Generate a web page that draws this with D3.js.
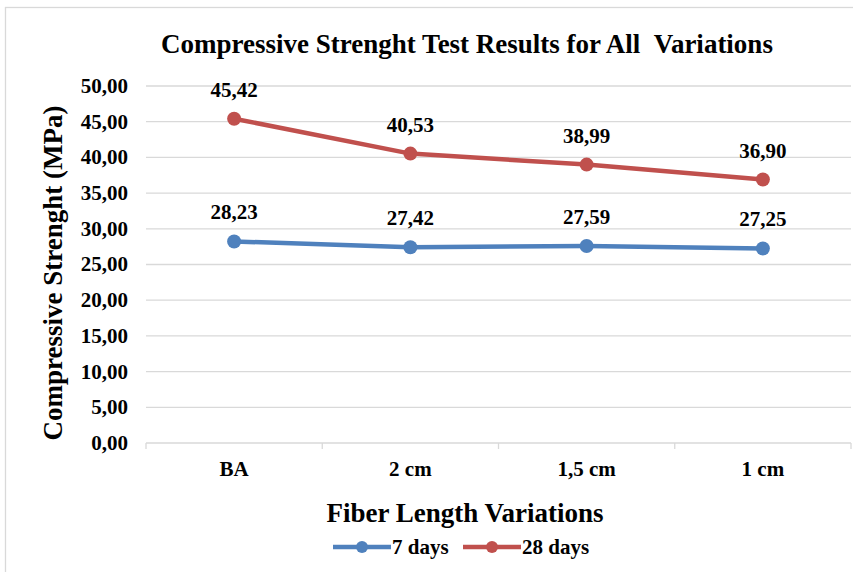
<!DOCTYPE html>
<html lang="en">
  <head>
    <meta charset="UTF-8" />
    <title>Compressive Strenght Test Results</title>
    <style>
      body { margin: 0; background: #fff; }
      svg text { font-family: "Liberation Serif", "Times New Roman", Times, "DejaVu Serif", serif; font-weight: bold; }
      .grid line { stroke: #d9d9d9; stroke-width: 1.3; }
    </style>
  </head>
  <body>
    <div id="chart"></div>
    <script src="https://d3js.org/d3.v7.min.js"></script>
    <script>
      const categories = ['BA', '2 cm', '1,5 cm', '1 cm'];
      const days7 = [28.23, 27.42, 27.59, 27.25];
      const days28 = [45.42, 40.53, 38.99, 36.90];
      const yTicks = [0, 5, 10, 15, 20, 25, 30, 35, 40, 45, 50];

      const series = [
        { name: '7 days', values: days7, color: '#4F81BD' },
        { name: '28 days', values: days28, color: '#C0504D' },
      ];

      const W = 853, H = 572;
      const margin = { top: 86, right: 2, bottom: 129, left: 146 };

      const svg = d3.select('#chart').append('svg').attr('width', W).attr('height', H);

      // outer chart border
      svg.append('rect')
        .attr('x', 5.5).attr('y', 7.5)
        .attr('width', W + 10).attr('height', H + 10)
        .attr('fill', 'none').attr('stroke', '#d9d9d9').attr('stroke-width', 1.3);

      const x = d3.scaleBand().domain(categories).range([margin.left, W - margin.right]);
      const y = d3.scaleLinear().domain([0, 50]).range([H - margin.bottom, margin.top]);

      // gridlines
      svg.append('g').attr('class', 'grid')
        .selectAll('line').data(yTicks).enter().append('line')
        .attr('x1', margin.left).attr('x2', W - margin.right)
        .attr('y1', d => y(d)).attr('y2', d => y(d));

      // x axis ticks
      const xTickPos = categories.map(c => x(c)).concat([x.range()[1]]);
      svg.append('g').selectAll('line').data(xTickPos).enter().append('line')
        .attr('x1', d => d).attr('x2', d => d)
        .attr('y1', y(0)).attr('y2', y(0) + 6)
        .attr('stroke', '#d9d9d9').attr('stroke-width', 1.3);

      // y tick labels
      svg.append('g').selectAll('text').data(yTicks).enter().append('text')
        .attr('x', 128).attr('y', d => y(d)).attr('dy', '0.33em')
        .attr('text-anchor', 'end').style('font-size', '21px')
        .text(d => d3.format('.2f')(d).replace('.', ','));

      // x labels
      svg.append('g').selectAll('text').data(categories).enter().append('text')
        .attr('x', d => x(d) + x.bandwidth() / 2).attr('y', 476)
        .attr('text-anchor', 'middle').style('font-size', '21px')
        .text(d => d);

      // title
      svg.append('text').attr('x', 467).attr('y', 53)
        .attr('text-anchor', 'middle').style('font-size', '27px')
        .text('Compressive Strenght Test Results for All\u00a0\u00a0Variations');

      // axis titles
      svg.append('text').attr('transform', 'rotate(-90)')
        .attr('x', -273).attr('y', 62)
        .attr('text-anchor', 'middle').style('font-size', '27px')
        .text('Compressive Strenght (MPa)');

      svg.append('text').attr('x', 465).attr('y', 522)
        .attr('text-anchor', 'middle').style('font-size', '27px')
        .text('Fiber Length Variations');

      const line = d3.line()
        .x((d, i) => x(categories[i]) + x.bandwidth() / 2)
        .y(d => y(d));

      series.forEach(s => {
        const g = svg.append('g');
        g.append('path').datum(s.values)
          .attr('d', line).attr('fill', 'none')
          .attr('stroke', s.color).attr('stroke-width', 4.5)
          .attr('stroke-linejoin', 'round');
        g.selectAll('circle').data(s.values).enter().append('circle')
          .attr('cx', (d, i) => x(categories[i]) + x.bandwidth() / 2)
          .attr('cy', d => y(d)).attr('r', 7).attr('fill', s.color);
        g.selectAll('text').data(s.values).enter().append('text')
          .attr('x', (d, i) => x(categories[i]) + x.bandwidth() / 2)
          .attr('y', d => y(d) - 22)
          .attr('text-anchor', 'middle').style('font-size', '21px')
          .text(d => d3.format('.2f')(d).replace('.', ','));
      });

      // legend
      const legend = svg.append('g');
      const legendX = [333, 463];
      series.forEach((s, i) => {
        const lg = legend.append('g').attr('transform', `translate(${legendX[i]}, 547)`);
        lg.append('line').attr('x1', 0).attr('x2', 58).attr('y1', 0).attr('y2', 0)
          .attr('stroke', s.color).attr('stroke-width', 4.5);
        lg.append('circle').attr('cx', 29).attr('cy', 0).attr('r', 6).attr('fill', s.color);
        lg.append('text').attr('x', 59).attr('y', 0).attr('dy', '0.33em')
          .style('font-size', '21px').text(s.name);
      });
    </script>
  </body>
</html>
